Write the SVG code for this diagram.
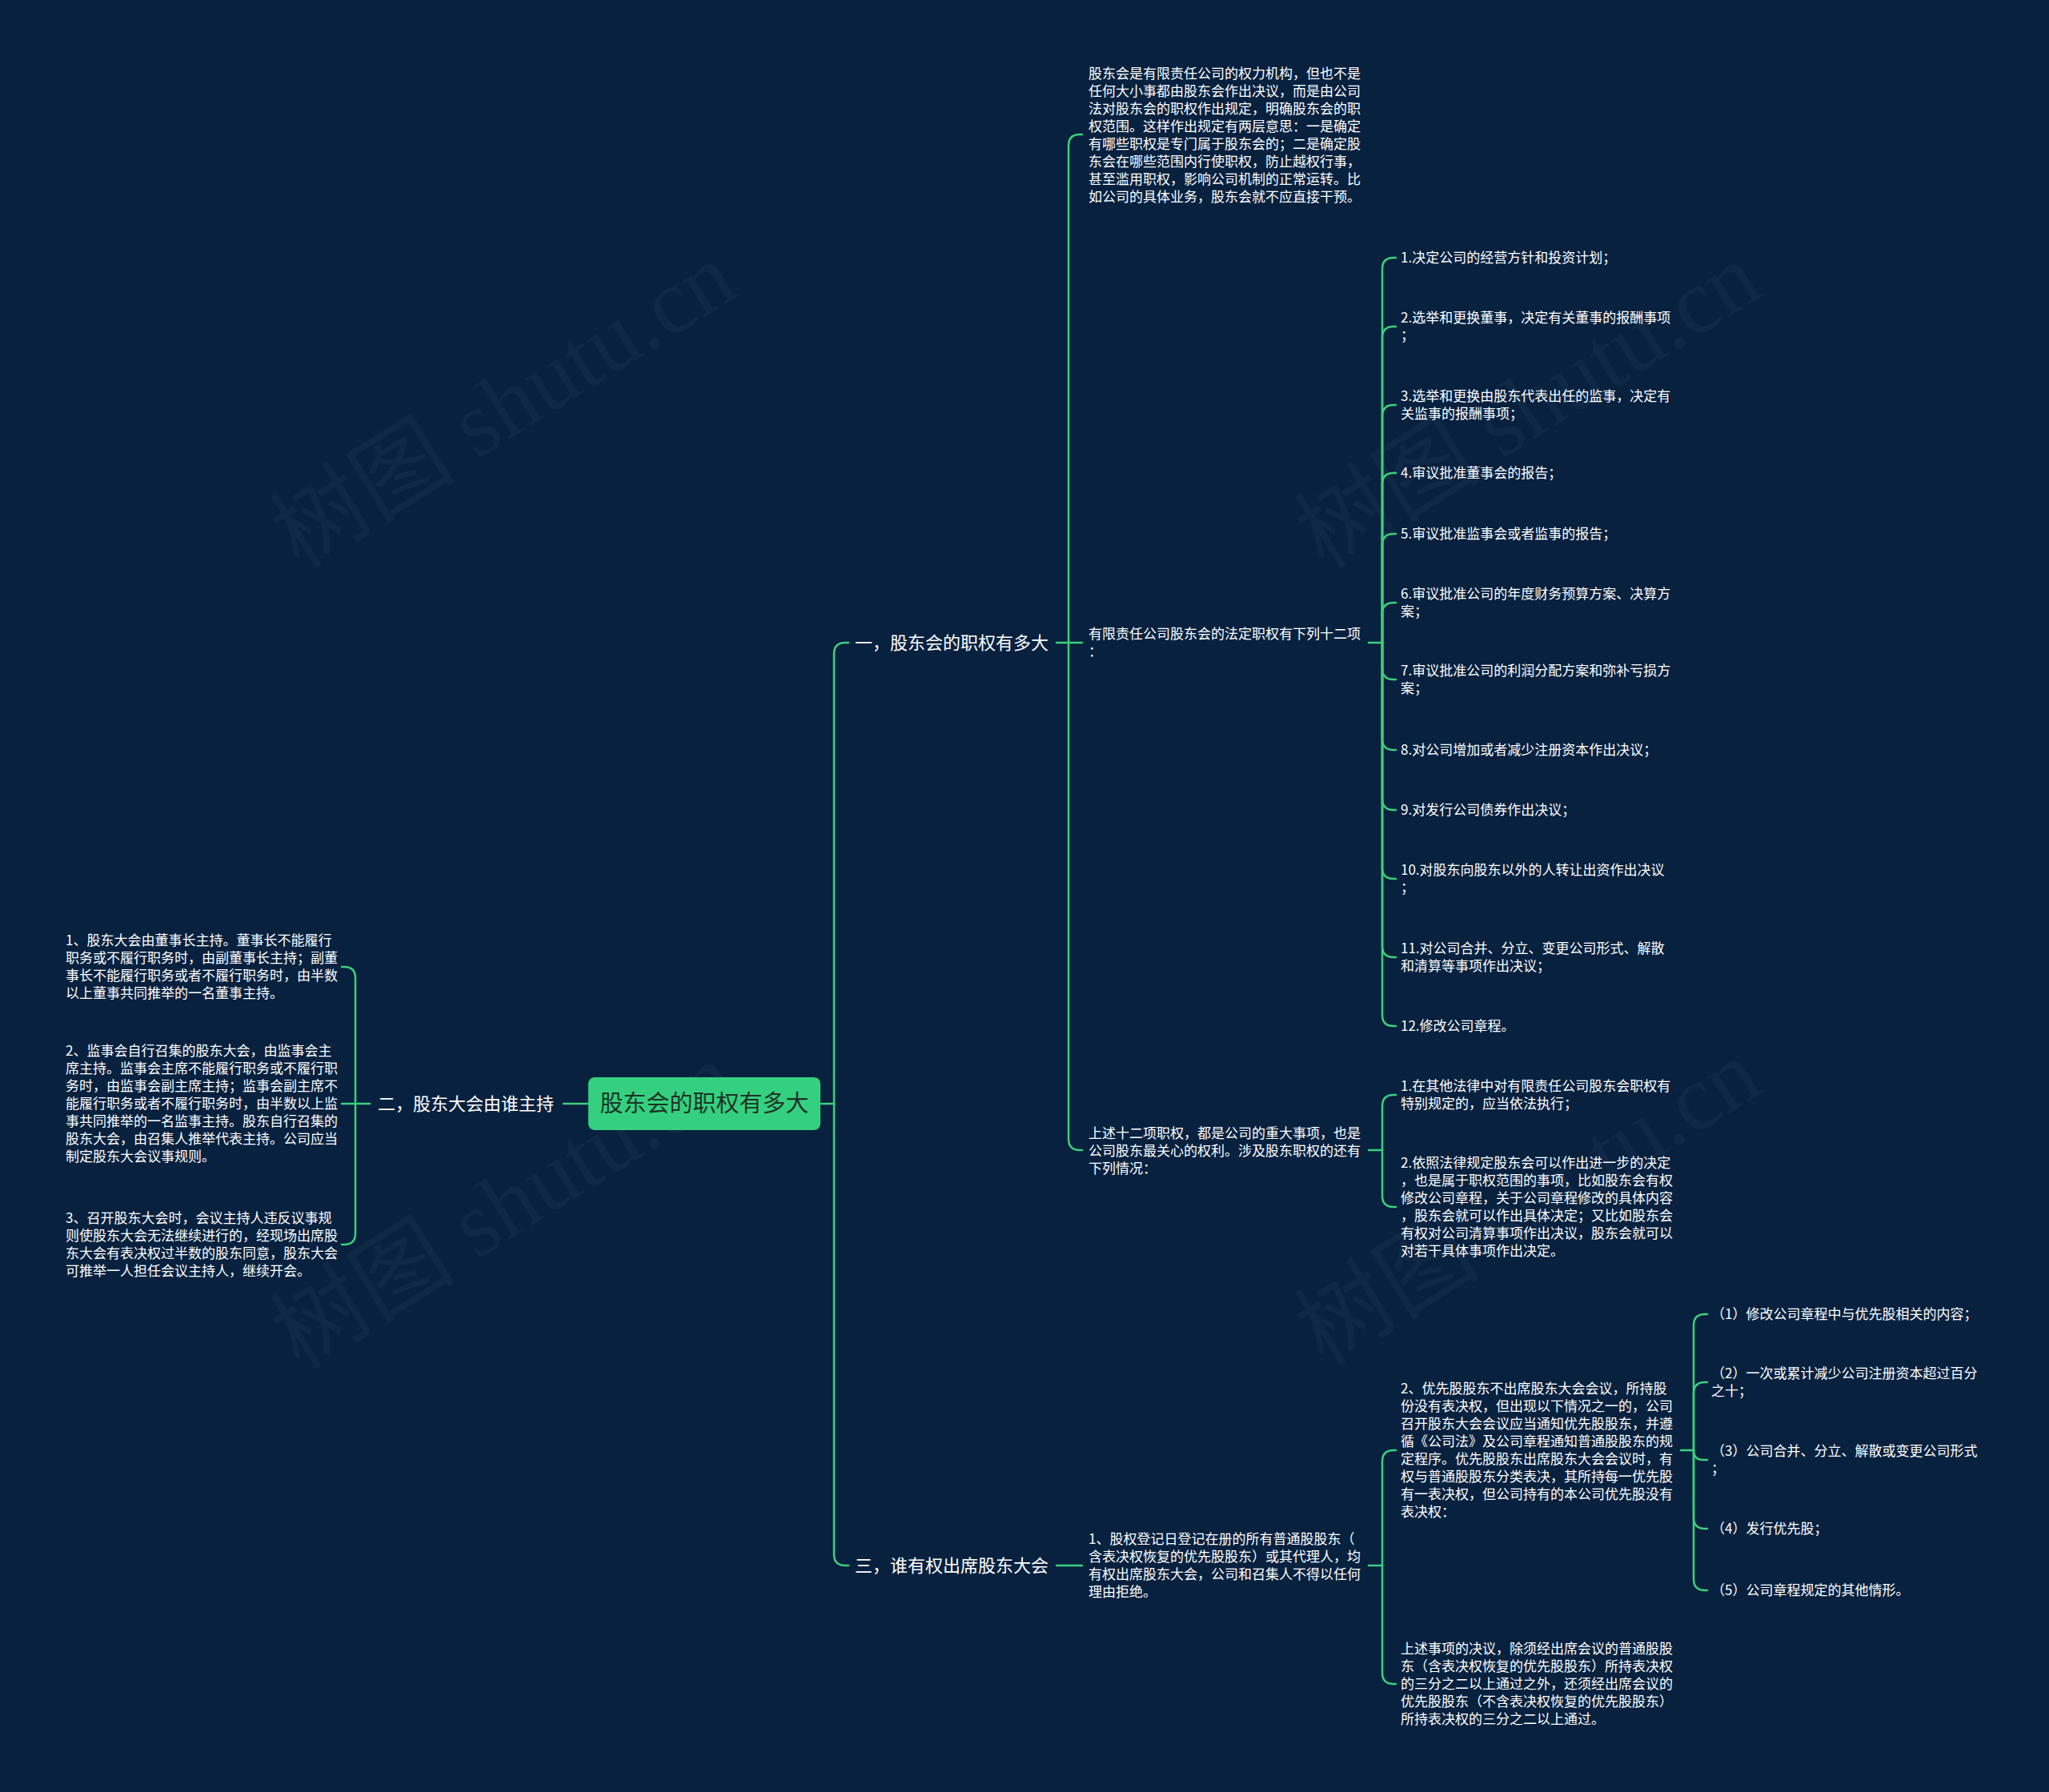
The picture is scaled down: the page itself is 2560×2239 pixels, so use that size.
<svg xmlns="http://www.w3.org/2000/svg" width="2560" height="2239" viewBox="0 0 2560 2239">
<style>
text{font-family:"Noto Sans CJK SC","Noto Sans",sans-serif;}
.leaf{font-size:17px;fill:#ffffff;}
.branch{font-size:22px;fill:#ffffff;}
.root{font-size:29px;fill:#1c3326;}
.wm{font-family:"Liberation Serif","Noto Sans CJK SC",serif;font-size:116px;fill:#ffffff;fill-opacity:0.035;}
.conn path{fill:none;stroke:#3ccf7d;stroke-width:2.5;stroke-linecap:round;}
</style>
<rect x="0" y="0" width="2560" height="2239" fill="#07213f"/>
<g id="watermarks">
<text class="wm" text-anchor="middle" transform="translate(650,540) rotate(-32)">树图 shutu.cn</text>
<text class="wm" text-anchor="middle" transform="translate(650,1540) rotate(-32)">树图 shutu.cn</text>
<text class="wm" text-anchor="middle" transform="translate(1930,540) rotate(-32)">树图 shutu.cn</text>
<text class="wm" text-anchor="middle" transform="translate(1930,1535) rotate(-32)">树图 shutu.cn</text>
</g>
<g id="connectors" class="conn">
<path d="M1025,1379 H1042"/>
<path d="M1042,1379 V817 Q1042,803 1056,803 H1060"/>
<path d="M1042,1379 V1942 Q1042,1956 1056,1956 H1060"/>
<path d="M1320,803 H1335"/>
<path d="M1335,803 V182 Q1335,168 1349,168 H1352"/>
<path d="M1335,803 H1352"/>
<path d="M1335,803 V1423 Q1335,1437 1349,1437 H1352"/>
<path d="M1710,803 H1727"/>
<path d="M1727,803 V336 Q1727,322 1741,322 H1744"/>
<path d="M1727,803 V422 Q1727,408 1741,408 H1744"/>
<path d="M1727,803 V520 Q1727,506 1741,506 H1744"/>
<path d="M1727,803 V605 Q1727,591 1741,591 H1744"/>
<path d="M1727,803 V681 Q1727,667 1741,667 H1744"/>
<path d="M1727,803 V767 Q1727,753 1741,753 H1744"/>
<path d="M1727,803 V835 Q1727,849 1741,849 H1744"/>
<path d="M1727,803 V923 Q1727,937 1741,937 H1744"/>
<path d="M1727,803 V998 Q1727,1012 1741,1012 H1744"/>
<path d="M1727,803 V1084 Q1727,1098 1741,1098 H1744"/>
<path d="M1727,803 V1182 Q1727,1196 1741,1196 H1744"/>
<path d="M1727,803 V1268 Q1727,1282 1741,1282 H1744"/>
<path d="M1710,1437 H1727"/>
<path d="M1727,1437 V1382 Q1727,1368 1741,1368 H1744"/>
<path d="M1727,1437 V1494 Q1727,1508 1741,1508 H1744"/>
<path d="M1320,1956 H1352"/>
<path d="M1710,1956 H1727"/>
<path d="M1727,1956 V1826 Q1727,1812 1741,1812 H1744"/>
<path d="M1727,1956 V2090 Q1727,2104 1741,2104 H1744"/>
<path d="M2100,1812 H2116"/>
<path d="M2116,1812 V1656 Q2116,1642 2130,1642 H2133"/>
<path d="M2116,1812 V1741 Q2116,1727 2130,1727 H2133"/>
<path d="M2116,1812 Q2116,1824 2128,1824 H2133"/>
<path d="M2116,1812 V1896 Q2116,1910 2130,1910 H2133"/>
<path d="M2116,1812 V1973 Q2116,1987 2130,1987 H2133"/>
<path d="M735,1379 H704"/>
<path d="M462,1379 H444"/>
<path d="M444,1379 V1222 Q444,1208 430,1208 H427"/>
<path d="M444,1379 H427"/>
<path d="M444,1379 V1541 Q444,1555 430,1555 H427"/>
</g>
<g id="root">
<rect x="735" y="1346" width="290" height="66" rx="8" ry="8" fill="#35d07f"/>
<text class="root" x="880" y="1389" text-anchor="middle">股东会的职权有多大</text>
</g>
<g id="b1">
<text class="branch" x="1068" y="811">一，股东会的职权有多大</text>
</g>
<g id="b2">
<text class="branch" x="692" y="1387" text-anchor="end">二，股东大会由谁主持</text>
</g>
<g id="b3">
<text class="branch" x="1068" y="1964">三，谁有权出席股东大会</text>
</g>
<g id="n-intro">
<text class="leaf"><tspan x="1360" y="98">股东会是有限责任公司的权力机构，但也不是</tspan><tspan x="1360" y="120">任何大小事都由股东会作出决议，而是由公司</tspan><tspan x="1360" y="142">法对股东会的职权作出规定，明确股东会的职</tspan><tspan x="1360" y="164">权范围。这样作出规定有两层意思：一是确定</tspan><tspan x="1360" y="186">有哪些职权是专门属于股东会的；二是确定股</tspan><tspan x="1360" y="208">东会在哪些范围内行使职权，防止越权行事，</tspan><tspan x="1360" y="230">甚至滥用职权，影响公司机制的正常运转。比</tspan><tspan x="1360" y="252">如公司的具体业务，股东会就不应直接干预。</tspan></text>
</g>
<g id="n-twelve">
<text class="leaf"><tspan x="1360" y="798">有限责任公司股东会的法定职权有下列十二项</tspan><tspan x="1360" y="820">：</tspan></text>
</g>
<g id="i1"><text class="leaf" x="1750" y="328">1.决定公司的经营方针和投资计划；</text></g>
<g id="i2"><text class="leaf"><tspan x="1750" y="403">2.选举和更换董事，决定有关董事的报酬事项</tspan><tspan x="1750" y="425">；</tspan></text></g>
<g id="i3"><text class="leaf"><tspan x="1750" y="501">3.选举和更换由股东代表出任的监事，决定有</tspan><tspan x="1750" y="523">关监事的报酬事项；</tspan></text></g>
<g id="i4"><text class="leaf" x="1750" y="597">4.审议批准董事会的报告；</text></g>
<g id="i5"><text class="leaf" x="1750" y="673">5.审议批准监事会或者监事的报告；</text></g>
<g id="i6"><text class="leaf"><tspan x="1750" y="748">6.审议批准公司的年度财务预算方案、决算方</tspan><tspan x="1750" y="770">案；</tspan></text></g>
<g id="i7"><text class="leaf"><tspan x="1750" y="844">7.审议批准公司的利润分配方案和弥补亏损方</tspan><tspan x="1750" y="866">案；</tspan></text></g>
<g id="i8"><text class="leaf" x="1750" y="943">8.对公司增加或者减少注册资本作出决议；</text></g>
<g id="i9"><text class="leaf" x="1750" y="1018">9.对发行公司债券作出决议；</text></g>
<g id="i10"><text class="leaf"><tspan x="1750" y="1093">10.对股东向股东以外的人转让出资作出决议</tspan><tspan x="1750" y="1115">；</tspan></text></g>
<g id="i11"><text class="leaf"><tspan x="1750" y="1191">11.对公司合并、分立、变更公司形式、解散</tspan><tspan x="1750" y="1213">和清算等事项作出决议；</tspan></text></g>
<g id="i12"><text class="leaf" x="1750" y="1288">12.修改公司章程。</text></g>
<g id="n-above">
<text class="leaf"><tspan x="1360" y="1422">上述十二项职权，都是公司的重大事项，也是</tspan><tspan x="1360" y="1444">公司股东最关心的权利。涉及股东职权的还有</tspan><tspan x="1360" y="1466">下列情况：</tspan></text>
</g>
<g id="o1"><text class="leaf"><tspan x="1750" y="1363">1.在其他法律中对有限责任公司股东会职权有</tspan><tspan x="1750" y="1385">特别规定的，应当依法执行；</tspan></text></g>
<g id="o2"><text class="leaf"><tspan x="1750" y="1459">2.依照法律规定股东会可以作出进一步的决定</tspan><tspan x="1750" y="1481">，也是属于职权范围的事项，比如股东会有权</tspan><tspan x="1750" y="1503">修改公司章程，关于公司章程修改的具体内容</tspan><tspan x="1750" y="1525">，股东会就可以作出具体决定；又比如股东会</tspan><tspan x="1750" y="1547">有权对公司清算事项作出决议，股东会就可以</tspan><tspan x="1750" y="1569">对若干具体事项作出决定。</tspan></text></g>
<g id="l1"><text class="leaf"><tspan x="82" y="1181">1、股东大会由董事长主持。董事长不能履行</tspan><tspan x="82" y="1203">职务或不履行职务时，由副董事长主持；副董</tspan><tspan x="82" y="1225">事长不能履行职务或者不履行职务时，由半数</tspan><tspan x="82" y="1247">以上董事共同推举的一名董事主持。</tspan></text></g>
<g id="l2"><text class="leaf"><tspan x="82" y="1319">2、监事会自行召集的股东大会，由监事会主</tspan><tspan x="82" y="1341">席主持。监事会主席不能履行职务或不履行职</tspan><tspan x="82" y="1363">务时，由监事会副主席主持；监事会副主席不</tspan><tspan x="82" y="1385">能履行职务或者不履行职务时，由半数以上监</tspan><tspan x="82" y="1407">事共同推举的一名监事主持。股东自行召集的</tspan><tspan x="82" y="1429">股东大会，由召集人推举代表主持。公司应当</tspan><tspan x="82" y="1451">制定股东大会议事规则。</tspan></text></g>
<g id="l3"><text class="leaf"><tspan x="82" y="1528">3、召开股东大会时，会议主持人违反议事规</tspan><tspan x="82" y="1550">则使股东大会无法继续进行的，经现场出席股</tspan><tspan x="82" y="1572">东大会有表决权过半数的股东同意，股东大会</tspan><tspan x="82" y="1594">可推举一人担任会议主持人，继续开会。</tspan></text></g>
<g id="a1"><text class="leaf"><tspan x="1360" y="1929">1、股权登记日登记在册的所有普通股股东（</tspan><tspan x="1360" y="1951">含表决权恢复的优先股股东）或其代理人，均</tspan><tspan x="1360" y="1973">有权出席股东大会，公司和召集人不得以任何</tspan><tspan x="1360" y="1995">理由拒绝。</tspan></text></g>
<g id="a2"><text class="leaf"><tspan x="1750" y="1741">2、优先股股东不出席股东大会会议，所持股</tspan><tspan x="1750" y="1763">份没有表决权，但出现以下情况之一的，公司</tspan><tspan x="1750" y="1785">召开股东大会会议应当通知优先股股东，并遵</tspan><tspan x="1750" y="1807">循《公司法》及公司章程通知普通股股东的规</tspan><tspan x="1750" y="1829">定程序。优先股股东出席股东大会会议时，有</tspan><tspan x="1750" y="1851">权与普通股股东分类表决，其所持每一优先股</tspan><tspan x="1750" y="1873">有一表决权，但公司持有的本公司优先股没有</tspan><tspan x="1750" y="1895">表决权：</tspan></text></g>
<g id="a3"><text class="leaf"><tspan x="1750" y="2066">上述事项的决议，除须经出席会议的普通股股</tspan><tspan x="1750" y="2088">东（含表决权恢复的优先股股东）所持表决权</tspan><tspan x="1750" y="2110">的三分之二以上通过之外，还须经出席会议的</tspan><tspan x="1750" y="2132">优先股股东（不含表决权恢复的优先股股东）</tspan><tspan x="1750" y="2154">所持表决权的三分之二以上通过。</tspan></text></g>
<g id="p1"><text class="leaf" x="2138" y="1648">（1）修改公司章程中与优先股相关的内容；</text></g>
<g id="p2"><text class="leaf"><tspan x="2138" y="1722">（2）一次或累计减少公司注册资本超过百分</tspan><tspan x="2138" y="1744">之十；</tspan></text></g>
<g id="p3"><text class="leaf"><tspan x="2138" y="1819">（3）公司合并、分立、解散或变更公司形式</tspan><tspan x="2138" y="1841">；</tspan></text></g>
<g id="p4"><text class="leaf" x="2138" y="1916">（4）发行优先股；</text></g>
<g id="p5"><text class="leaf" x="2138" y="1993">（5）公司章程规定的其他情形。</text></g>
</svg>
